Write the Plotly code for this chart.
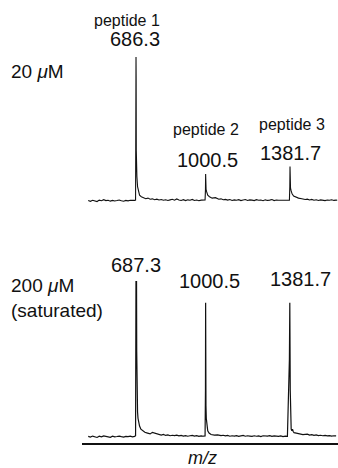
import plotly.graph_objects as go

# ---------------- data ----------------
# 20 uM spectrum (relative intensity, peptide 1 = 100)
top_mz = [470, 480, 490, 500, 510, 520, 530, 540, 550, 560, 570, 580, 590, 600, 610, 620,
          630, 640, 650, 660, 670, 680, 684,
          685.6, 686.0, 686.6, 687.2, 688.0, 690, 693, 697, 702, 710, 720, 730, 740, 750,
          760, 770, 780, 790, 800, 810, 820, 830, 840, 850, 860, 870, 880, 890, 900, 910,
          920, 930, 940, 950, 960, 970, 980, 990, 998,
          999.8, 1000.5, 1001.2, 1002.5, 1005, 1010, 1018, 1030, 1045, 1060, 1070, 1080,
          1090, 1100, 1110, 1120, 1130, 1140, 1150, 1160, 1170, 1180, 1190, 1200, 1210,
          1220, 1230, 1240, 1250, 1260, 1270, 1280, 1290, 1300, 1310, 1320, 1330, 1340,
          1350, 1360, 1370, 1379,
          1380.8, 1381.7, 1382.5, 1384, 1387, 1391, 1398, 1408, 1420, 1435, 1450, 1460,
          1470, 1480, 1490, 1500, 1510, 1520, 1530, 1540, 1550, 1560, 1570, 1580, 1590, 1595]
top_int = [0.3, -0.2, 0.5, 0.1, -0.4, 0.6, 0.2, 0.9, 0.3, 0.5, -0.1, 0.4, 0.0, 0.3, 0.7, 0.2,
           -0.2, 0.4, 0.1, 0.5, 0.2, 0.4, 0.6,
           40, 100, 85, 35, 25, 17, 10, 6, 4, 3, 2.2, 1.6, 2.0, 1.2,
           1.5, 0.9, 1.3, 0.7, 1.0, 0.5, 0.9, 0.4, 0.8, 1.2, 0.6, 1.4, 0.7, 0.4, 0.9, 0.3,
           0.8, 0.5, 1.1, 0.4, 0.7, 0.2, 0.6, 0.4, 0.7,
           8, 18.8, 10, 8, 6.5, 4, 3, 2, 2.3, 1.2, 1.5, 0.9,
           1.1, 0.6, 1.0, 0.4, 0.8, 0.5, 0.9, 0.3, 0.7, 1.0, 0.4, 0.8, 0.6,
           0.3, 0.9, 0.5, 0.7, 0.2, 0.8, 0.4, 0.6, 1.0, 0.3, 0.7, 0.5, 0.4,
           0.8, 0.3, 0.6, 0.5,
           10, 24, 14, 9, 7, 5, 3.5, 2.8, 2, 1.6, 1.0, 1.3,
           0.7, 1.1, 0.5, 0.9, 0.4, 0.8, 0.6, 0.3, 0.7, 0.5, 0.9, 0.4, 0.6, 0.5]

# 200 uM (saturated) spectrum
bot_mz = [470, 480, 490, 500, 510, 520, 530, 540, 550, 560, 570, 580, 590, 600, 610, 620,
          630, 640, 650, 660, 670, 680, 684,
          685.8, 687.0, 688.4, 689.2, 689.8, 691, 693, 695, 698, 702, 708, 716, 726, 738,
          750, 760, 770, 780, 790, 800, 810, 820, 830, 840, 850, 860, 870, 880, 890, 900,
          910, 920, 930, 940, 950, 960, 970, 980, 990, 998,
          999.8, 1000.5, 1001.2, 1002, 1003.5, 1006, 1010, 1016, 1025, 1040, 1055, 1070,
          1080, 1090, 1100, 1110, 1120, 1130, 1140, 1150, 1160, 1170, 1180, 1190, 1200,
          1210, 1220, 1230, 1240, 1250, 1260, 1270, 1280, 1290, 1300, 1310, 1320, 1330,
          1340, 1350, 1360, 1370, 1379,
          1380.8, 1381.7, 1382.8, 1383.8, 1385, 1387, 1390, 1393, 1396, 1400, 1410, 1425,
          1440, 1460, 1470, 1480, 1490, 1500, 1510, 1520, 1530, 1540, 1550, 1560, 1570,
          1580, 1590, 1595]
bot_int = [0.4, 0.0, 0.6, 0.2, -0.3, 0.5, 0.1, 0.7, 0.3, 0.4, -0.2, 0.5, 0.1, 0.3, 0.6, 0.2,
           -0.1, 0.4, 0.2, 0.5, 0.1, 0.4, 0.8,
           100, 99, 100, 55, 28, 24, 16, 12, 9, 7, 5, 4, 3, 2.5,
           2.0, 3.0, 2.5, 1.8, 1.5, 1.2, 1.6, 1.0, 1.3, 0.8, 1.1, 0.9, 1.2, 0.7, 1.0, 0.6,
           0.9, 0.5, 0.8, 1.0, 0.6, 0.9, 0.4, 0.7, 0.5, 0.6,
           30, 86, 30, 20, 12, 7, 4, 2.5, 1.6, 1.2, 1.4, 0.9,
           1.1, 0.7, 1.0, 0.5, 0.8, 0.6, 0.9, 0.4, 0.7, 1.0, 0.5, 0.8, 0.6,
           0.4, 0.8, 0.5, 0.7, 0.3, 0.8, 0.5, 0.6, 0.9, 0.4, 0.7, 0.5,
           0.4, 0.7, 0.3, 0.6, 0.4,
           50, 86, 60, 30, 15, 8, 5, 4, 5, 3.5, 2.8, 2.5,
           2.0, 1.5, 1.8, 1.2, 1.5, 1.0, 1.3, 0.9, 1.1, 0.8, 1.0, 0.7, 0.9,
           0.6, 0.8, 0.7]

top_peaks = [686.3, 1000.5, 1381.7]
top_peak_labels = ["686.3", "1000.5", "1381.7"]
top_names = ["peptide 1", "peptide 2", "peptide 3"]
bot_peaks = [687.3, 1000.5, 1381.7]
bot_peak_labels = ["687.3", "1000.5", "1381.7"]
top_condition = "20 <i>μ</i>M"
bot_condition = "200 <i>μ</i>M<br>(saturated)"
x_title = "<i>m/z</i>"

# ---------------- figure ----------------
W, H = 338, 468
FONT = "Liberation Sans, Arial, Helvetica, sans-serif"
TXT = "#111111"

def py(p):
    return 1 - p / H

fig = go.Figure()
fig.add_trace(go.Scatter(x=top_mz, y=top_int, mode="lines", xaxis="x2", yaxis="y2",
                         line=dict(color="#111111", width=1.1), hoverinfo="skip"))
fig.add_trace(go.Scatter(x=bot_mz, y=bot_int, mode="lines", xaxis="x", yaxis="y",
                         line=dict(color="#111111", width=1.2), hoverinfo="skip"))

xr = [442, 1598.5]
xdom = [82 / W, 1]
fig.update_layout(
    width=W, height=H, autosize=False,
    margin=dict(l=0, r=0, t=0, b=0),
    paper_bgcolor="white", plot_bgcolor="white",
    showlegend=False,
    font=dict(family=FONT, color=TXT),
    xaxis=dict(domain=xdom, range=xr, anchor="y", showline=True, linecolor="#111111",
               linewidth=2, showgrid=False, zeroline=False, ticks="",
               showticklabels=False),
    yaxis=dict(domain=[py(443), py(270)], range=[-3.846, 107.05], anchor="x",
               visible=False),
    xaxis2=dict(domain=xdom, range=xr, anchor="y2", visible=False),
    yaxis2=dict(domain=[py(210), py(50)], range=[-6.25, 104.86], anchor="x2",
                visible=False),
)

ann = []
def add(text, x, y, size, xref="x", xanchor="center", align="center"):
    ann.append(dict(text=text, x=x, y=py(y), xref=xref, yref="paper", showarrow=False,
                    xanchor=xanchor, yanchor="middle", align=align,
                    font=dict(size=size, family=FONT, color=TXT)))

# top labels (offsets in pixels from the peak)
name_y = [21, 129, 125]
name_dx = [-9, 0.5, 2]
lab_y = [39, 160, 153]
lab_dx = [-1, 1.5, 0]
for p, nm, lb, ny, ly, dn, dl in zip(top_peaks, top_names, top_peak_labels, name_y, lab_y, name_dx, lab_dx):
    add(nm, p + dn * 4.516, ny, 16, xref="x2")
    add(lb, p + dl * 4.516, ly, 20, xref="x2")
# bottom labels
blab_y = [265, 281, 279]
blab_dx = [0, 4, 10]
for p, lb, ly, dl in zip(bot_peaks, bot_peak_labels, blab_y, blab_dx):
    add(lb, p + dl * 4.516, ly, 20)

add(top_condition, 9 / W, 71, 19, xref="paper", xanchor="left", align="left")
add(bot_condition, 9 / W, 298, 19, xref="paper", xanchor="left", align="left")
add(x_title, 202 / W, 457.5, 18, xref="paper")

fig.update_layout(annotations=ann)
fig.write_html("out.html", config={"displayModeBar": False},
               post_script="document.body.style.margin='0';document.body.style.overflow='hidden';")
